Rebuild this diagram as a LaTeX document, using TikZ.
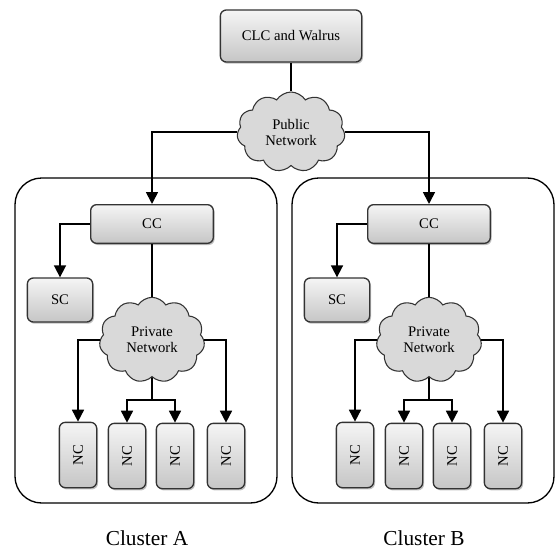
\documentclass[tikz,border=0pt]{standalone}
\usepackage{fontspec}
\setmainfont{Liberation Serif}
\usetikzlibrary{arrows.meta,shapes.symbols,shadows,positioning}

\begin{document}
\begin{tikzpicture}[x=0.75pt,y=-0.75pt]
\tikzstyle{comp}=[rectangle,rounded corners=4.5pt,draw=black!80,line width=1pt,top color=gray!8,bottom color=gray!45,drop shadow={shadow xshift=1pt,shadow yshift=-1.3pt,fill=black!50},font=\fontsize{11}{13}\selectfont]
\tikzstyle{net}=[cloud,cloud puffs=11,cloud puff arc=115,aspect=1.35,draw=black!80,line width=0.8pt,fill=gray!30,inner sep=0pt,align=center,font=\fontsize{11}{12}\selectfont]
\tikzstyle{clus}=[draw,line width=1pt,rounded corners=20pt]
\tikzstyle{arr}=[-{Triangle[length=9pt,width=9pt]},line width=1.3pt]
\tikzstyle{link}=[line width=0.8pt]
\useasboundingbox (0,0) rectangle (558,550);

\node[comp,minimum width=106pt,minimum height=39pt] (clc) at (291,36) {CLC and Walrus};
\node[net,minimum width=81pt,minimum height=60pt] (pub) at (291,132) {Public\\Network};
\draw[link] (clc) -- (pub);

% one box per cluster
\foreach \c/\dx/\side in {A/0/west,B/277/east}{
  \draw[clus] (15+\dx,178) rectangle (277+\dx,503);
  \node[font=\fontsize{16}{18}\selectfont] (lbl\c) at (147+\dx,538) {Cluster \c};
  \node[comp,minimum width=92pt,minimum height=29pt] (cc\c) at (152+\dx,224) {CC};
  \node[comp,minimum width=49pt,minimum height=33pt] (sc\c) at (60+\dx,300) {SC};
  \node[net,minimum width=79pt,minimum height=64pt] (priv\c) at (152+\dx,340) {Private\\Network};
  \node[comp,minimum width=28pt,minimum height=49pt] (nc1\c) at (78+\dx,455) {\rotatebox{90}{NC}};
  \node[comp,minimum width=28pt,minimum height=49pt] (nc2\c) at (127+\dx,456) {\rotatebox{90}{NC}};
  \node[comp,minimum width=28pt,minimum height=49pt] (nc3\c) at (175+\dx,456) {\rotatebox{90}{NC}};
  \node[comp,minimum width=28pt,minimum height=49pt] (nc4\c) at (226+\dx,456) {\rotatebox{90}{NC}};
  \coordinate (split\c) at (152+\dx,400);
  \draw[arr] (pub.\side) -| (cc\c.north);
  \draw[arr] (cc\c.west) -| (sc\c.north);
  \draw[link] (cc\c.south) -- (priv\c.north);
  \draw[arr] (priv\c.west) -| (nc1\c.north);
  \draw[arr] (priv\c.east) -| (nc4\c.north);
  \draw[arr] (priv\c.south) -- (split\c) -| (nc2\c.north);
  \draw[arr] (split\c) -| (nc3\c.north);
}
\end{tikzpicture}
\end{document}
